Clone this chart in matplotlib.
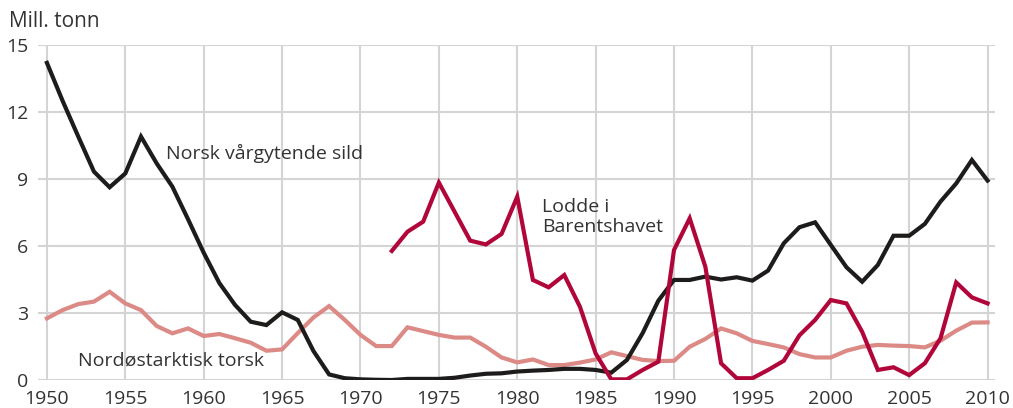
import numpy as np, matplotlib
matplotlib.use("Agg")
import matplotlib.pyplot as plt

plt.rcParams['font.family'] = ['Open Sans', 'DejaVu Sans']

years = np.arange(1950, 2011)
sild = [14.2, 12.5, 10.9, 9.33, 8.63, 9.25, 10.9, 9.7, 8.66, 7.2,
        5.7, 4.34, 3.36, 2.61, 2.46, 3.03, 2.69, 1.3, 0.25, 0.08,
        0.03, 0.01, 0.0, 0.05, 0.05, 0.05, 0.1, 0.2, 0.28, 0.3,
        0.38, 0.42, 0.45, 0.5, 0.5, 0.45, 0.33, 0.9, 2.1, 3.55,
        4.48, 4.48, 4.63, 4.5, 4.6, 4.45, 4.9, 6.12, 6.84, 7.06,
        6.05, 5.05, 4.4, 5.15, 6.46, 6.46, 6.99, 7.99, 8.8, 9.85, 8.93]
lodde_years = np.arange(1972, 2011)
lodde = [5.78, 6.64, 7.09, 8.84, 7.54, 6.24, 6.07, 6.54, 8.21, 4.48,
         4.15, 4.7, 3.28, 1.19, 0.03, 0.03, 0.45, 0.82, 5.82, 7.24,
         5.07, 0.75, 0.08, 0.08, 0.45, 0.86, 2.0, 2.69, 3.58, 3.43,
         2.16, 0.45, 0.57, 0.22, 0.75, 1.87, 4.37, 3.7, 3.43]
torsk = [2.76, 3.13, 3.4, 3.51, 3.95, 3.43, 3.13, 2.42, 2.09, 2.31,
         1.97, 2.06, 1.87, 1.67, 1.31, 1.37, 2.1, 2.8, 3.31, 2.69,
         2.02, 1.52, 1.52, 2.36, 2.19, 2.02, 1.9, 1.9, 1.49, 1.01,
         0.79, 0.92, 0.67, 0.67, 0.78, 0.92, 1.24, 1.07, 0.9, 0.85,
         0.86, 1.49, 1.84, 2.31, 2.09, 1.75, 1.61, 1.46, 1.16, 1.01,
         1.01, 1.31, 1.49, 1.57, 1.54, 1.52, 1.46, 1.76, 2.21, 2.57, 2.58]

txt = '#333333'
fig = plt.figure(figsize=(10.13, 4.08), dpi=100)
ax = fig.add_axes([0.0375, 0.0686, 0.9445, 0.8211])

ax.plot(years, torsk, color='#dc8a86', lw=3, solid_joinstyle='miter', zorder=3)
ax.plot(years, sild, color='#1e1b1b', lw=3, solid_joinstyle='miter', zorder=4)
ax.plot(lodde_years, lodde, color='#b1063a', lw=3, solid_joinstyle='miter', zorder=5)

ax.set_xlim(1949.43, 2010.46)
ax.set_ylim(0, 15)
ax.set_xticks(range(1950, 2011, 5))
ax.set_yticks(range(0, 16, 3))
ax.grid(True, color='#d4d4d4', lw=1.5)
ax.set_axisbelow(True)
for s in ax.spines.values():
    s.set_visible(False)
ax.tick_params(length=0, labelsize=14, colors=txt)
ax.tick_params(axis='y', pad=7)
ax.tick_params(axis='x', pad=7)
for lab in ax.get_yticklabels():
    lab.set_va('center_baseline')

fs = 14
ax.text(1957.6, 10.15, 'Norsk vårgytende sild', fontsize=fs, color=txt, va='center')
ax.text(1981.6, 7.3, 'Lodde i\nBarentshavet', fontsize=fs, color=txt, va='center', linespacing=1.15)
ax.text(1952.0, 0.85, 'Nordøstarktisk torsk', fontsize=fs, color=txt, va='center')
fig.text(0.009, 0.948, 'Mill. tonn', fontsize=15, color=txt, va='center')

fig.savefig('out.png', dpi=100)
